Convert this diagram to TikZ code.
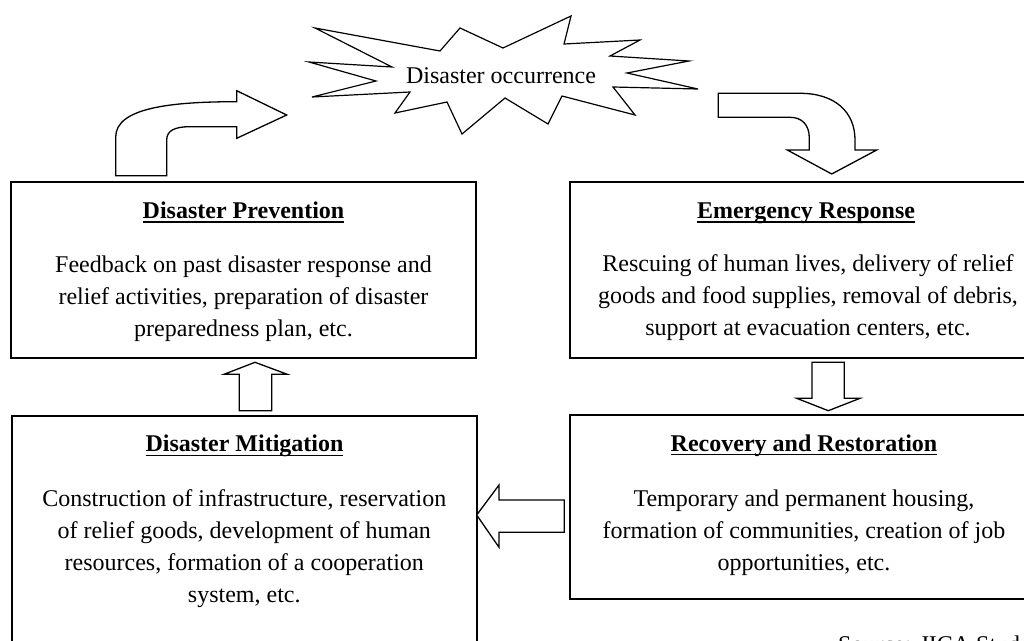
\documentclass[tikz,border=0pt]{standalone}
\usepackage{fontspec}
\setmainfont{Liberation Serif}
% underlined heading: rule at a fixed depth below the baseline
\newcommand\ulhead[1]{\setbox0\hbox{#1}\rlap{\rule[-4.2pt]{\wd0}{1.4pt}}\box0}

\begin{document}
\begin{tikzpicture}[x=1pt,y=-1pt,
  panel/.style={draw, line width=1.6pt, inner sep=0pt},
  heading/.style={font=\fontsize{24}{32}\selectfont\bfseries, anchor=base, inner sep=0pt},
  body/.style={font=\fontsize{24}{32}\selectfont, align=center, anchor=north, inner sep=0pt},
  plain/.style={font=\fontsize{24}{32}\selectfont, inner sep=0pt},
  blockarrow/.style={draw, line width=1.3pt, fill=white, line join=miter},
  burst/.style={draw, line width=1.2pt, fill=white, line join=miter},
]
\clip (0,0) rectangle (1024,640);

% four phase panels
\node[panel, minimum width=465pt, minimum height=176pt] (prev) at (243.5,270) {};
\node[panel, minimum width=472pt, minimum height=176pt] (emer) at (806,270) {};
\node[panel, minimum width=472pt, minimum height=184pt] (reco) at (806,507) {};
\node[panel, minimum width=465pt, minimum height=264pt] (miti) at (244.3,548) {};

% headings
\node[heading] (prevT) at (243.5,218.3) {\ulhead{Disaster Prevention}};
\node[heading] (emerT) at (806,218.3) {\ulhead{Emergency Response}};
\node[heading] (recoT) at (804,451) {\ulhead{Recovery and Restoration}};
\node[heading] (mitiT) at (244.5,451.7) {\ulhead{Disaster Mitigation}};

% descriptions
\node[body] (prevB) at (243.5,250.3) {\strut Feedback on past disaster response and\\relief activities, preparation of disaster\\preparedness plan, etc.};
\node[body] (emerB) at (808,249.3) {\strut Rescuing of human lives, delivery of relief\\goods and food supplies, removal of debris,\\support at evacuation centers, etc.};
\node[body] (recoB) at (804,483.6) {\strut Temporary and permanent housing,\\formation of communities, creation of job\\opportunities, etc.};
\node[body] (mitiB) at (244.3,484.3) {\strut Construction of infrastructure, reservation\\of relief goods, development of human\\resources, formation of a cooperation\\system, etc.};

% disaster burst
\draw[burst] (315,28) -- (440,51) -- (460,28) -- (503,48) -- (571,16) -- (564,44)
  -- (640,40) -- (610,56) -- (689,61) -- (627,73) -- (698,89) -- (613,87)
  -- (635,115) -- (562,96) -- (548,124) -- (505,98) -- (462,134) -- (447,102)
  -- (395,113) -- (410,92) -- (312,97) -- (376,81) -- (309,62) -- (392,67) -- cycle;
\node[plain, anchor=base] (burstT) at (501,83.3) {Disaster occurrence};

% curved arrow: prevention -> occurrence
\draw[blockarrow] (115.7,175.7) -- (115.7,137)
  .. controls (115.7,108) and (170,101.7) .. (236.7,101.7)
  -- (236.7,90.7) -- (286.7,115) -- (236.7,138.3) -- (236.7,126.7)
  -- (190,126.7) .. controls (174,126.7) and (166.7,131) .. (166.7,140)
  -- (166.7,175.7) -- cycle;

% curved arrow: occurrence -> emergency response
\draw[blockarrow] (718.3,93.3) -- (800,93.3)
  .. controls (835,93.3) and (855,112) .. (855,140)
  -- (855,150) -- (876.7,150) -- (831.7,174) -- (787.3,150) -- (809.3,150)
  -- (809.3,138) .. controls (809.3,125) and (802,117.3) .. (790,117.3)
  -- (718.3,117.3) -- cycle;

% straight arrows between panels
\draw[blockarrow] (239.3,410.7) -- (239.3,374.3) -- (224,374.3) -- (255,362.3)
  -- (287.3,374.3) -- (271.7,374.3) -- (271.7,410.7) -- cycle;
\draw[blockarrow] (812,362.3) -- (844.3,362.3) -- (844.3,398.3) -- (860,398.3)
  -- (828.3,410.7) -- (796.7,398.3) -- (812,398.3) -- cycle;
\draw[blockarrow] (564.3,500) -- (499,500) -- (499,485) -- (476.7,515)
  -- (499,547.3) -- (499,532.3) -- (564.3,532.3) -- cycle;

% source line
\node[plain, anchor=base west] (src) at (838,652) {Source: JICA Study Team};
\end{tikzpicture}
\end{document}
